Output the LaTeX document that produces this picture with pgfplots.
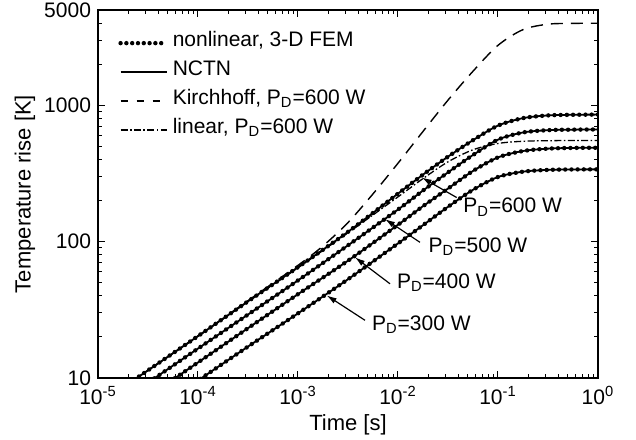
\documentclass[border=0pt]{standalone}
\usepackage{pgfplots}
\pgfplotsset{compat=1.18}
\usepackage{pgfplotstable}
\usepackage{fontspec}
\setmainfont{Liberation Sans}
\setsansfont{Liberation Sans}
\usetikzlibrary{arrows.meta}

\pgfplotstableread{
t        p600  p500  p400  p300   lin
1e-5     6.40  5.20  4.12  3.03   6.40
3.162e-5 11.38 9.24  7.32  5.39   11.38
1e-4     20.3  16.44 13.0  9.58   20.2
3.162e-4 36.5  29.2  23.2  17.0   36.3
1e-3     65    52    41.2  29.8   64.3
3.162e-3 118   94    72.5  53     116
1e-2     225   172   133   97     213
1.778e-2 310   237   182   132    290
3.162e-2 420   322   245   180    385
5.623e-2 555   432   330   240    472
0.1      710   560   415   298    525
0.1778   805   632   462   326    545
0.3162   843   657   481   336    550
0.5623   852   663   487   338.5  552
1        855   665   488   339    552
}\mydata

\pgfplotstableread{
t        kir
1e-5     6.40
3.162e-5 11.38
1e-4     20.3
3.162e-4 36.9
1e-3     67
1.778e-3 93
3.162e-3 138
5.623e-3 224
1e-2     376
1.778e-2 643
3.162e-2 1091
5.623e-2 1778
0.1      2754
0.1778   3589
0.3162   3936
0.5623   3990
1        4000
}\kirdata

\tikzset{
  nctn/.style={black, line width=0.9bp, smooth},
  fem/.style={black, line width=2.2bp, dash pattern=on 0pt off 3.1bp, line cap=round, smooth},
  kirst/.style={black, line width=0.7bp, dash pattern=on 6bp off 4bp},
  linst/.style={black, line width=0.65bp, dash pattern=on 3.5bp off 1.2bp on 0.8bp off 1.2bp},
  lbl/.style={anchor=base west, inner sep=0pt, font=\fontsize{10.5bp}{12.6bp}\selectfont},
  arr/.style={-{Latex[length=5bp,width=3bp]}, line width=0.6bp, black},
}

\begin{document}
\begin{tikzpicture}
\path[use as bounding box] (-49bp,-31bp) rectangle (269bp,189bp);
\begin{axis}[
  xmode=log, ymode=log,
  scale only axis, width=250bp, height=184bp,
  xmin=1e-5, xmax=1, ymin=10, ymax=5000,
  xtick={1e-5,1e-4,1e-3,1e-2,1e-1,1},
  xticklabels={10\textsuperscript{-5},10\textsuperscript{-4},10\textsuperscript{-3},10\textsuperscript{-2},10\textsuperscript{-1},10\textsuperscript{0}},
  ytick={10,100,1000,5000},
  yticklabels={10,100,1000,5000},
  minor xtick={2e-5,3e-5,4e-5,5e-5,6e-5,7e-5,8e-5,9e-5,2e-4,3e-4,4e-4,5e-4,6e-4,7e-4,8e-4,9e-4,2e-3,3e-3,4e-3,5e-3,6e-3,7e-3,8e-3,9e-3,2e-2,3e-2,4e-2,5e-2,6e-2,7e-2,8e-2,9e-2,0.2,0.3,0.4,0.5,0.6,0.7,0.8,0.9},
  minor ytick={20,30,40,50,60,70,80,90,200,300,400,500,600,700,800,900,2000,3000,4000},
  tick align=inside,
  major tick length=3.5bp, minor tick length=2bp,
  axis line style={line width=0.6bp},
  every tick/.style={black, line width=0.5bp},
  tick label style={font=\fontsize{10.5bp}{12.6bp}\selectfont},
  xticklabel style={yshift=-0.5bp},
  label style={font=\fontsize{11bp}{13bp}\selectfont},
  xlabel={Time [s]},
  ylabel={Temperature rise [K]},
  xlabel style={at={(axis description cs:0.5,-0.128)}, anchor=center},
  ylabel style={at={(axis description cs:-0.146,0.5)}, anchor=center},
  legend image code/.code={\draw[#1] (0bp,0bp) -- (23bp,0bp);},
  legend cell align=left,
  legend style={draw=none, fill=none, at={(axis description cs:0.04,0.945)}, anchor=north west,
    font=\fontsize{10.5bp}{12.6bp}\selectfont, row sep=2bp, inner sep=0pt,
    nodes={inner sep=1bp, inner xsep=2bp, text height=7bp, text depth=3.5bp}},
]
\addlegendimage{black, line width=2.2bp, dash pattern=on 0pt off 2.9bp, line cap=round}
\addlegendentry{nonlinear, 3-D FEM}
\addlegendimage{black, line width=0.9bp}
\addlegendentry{NCTN}
\addlegendimage{black, line width=0.7bp, dash pattern=on 3.5bp off 4.5bp}
\addlegendentry{Kirchhoff, \smash{P\textsubscript{D}}=600 W}
\addlegendimage{linst}
\addlegendentry{linear, \smash{P\textsubscript{D}}=600 W}

\addplot[kirst, smooth, forget plot] table[x=t, y=kir] {\kirdata};
\addplot[linst, smooth, forget plot] table[x=t, y=lin] {\mydata};

\addplot[nctn, forget plot] table[x=t, y=p600] {\mydata};
\addplot[fem, forget plot] table[x=t, y=p600] {\mydata};
\addplot[nctn, forget plot] table[x=t, y=p500] {\mydata};
\addplot[fem, forget plot] table[x=t, y=p500] {\mydata};
\addplot[nctn, forget plot] table[x=t, y=p400] {\mydata};
\addplot[fem, forget plot] table[x=t, y=p400] {\mydata};
\addplot[nctn, forget plot] table[x=t, y=p300] {\mydata};
\addplot[fem, forget plot] table[x=t, y=p300] {\mydata};

\draw[arr] (axis cs:0.03864,210.6) -- (axis cs:0.01726,295.7);
\node[lbl] at (axis cs:0.0447,162.8) {P\textsubscript{D}=600 W};
\draw[arr] (axis cs:0.0166,98.9) -- (axis cs:0.00741,146.5);
\node[lbl] at (axis cs:0.0201,83.6) {P\textsubscript{D}=500 W};
\draw[arr] (axis cs:0.00832,49.1) -- (axis cs:0.003715,76.8);
\node[lbl] at (axis cs:0.0097,45.4) {P\textsubscript{D}=400 W};
\draw[arr] (axis cs:0.004677,26.5) -- (axis cs:0.001936,40.35);
\node[lbl] at (axis cs:0.00546,22.4) {P\textsubscript{D}=300 W};
\end{axis}
\end{tikzpicture}
\end{document}
